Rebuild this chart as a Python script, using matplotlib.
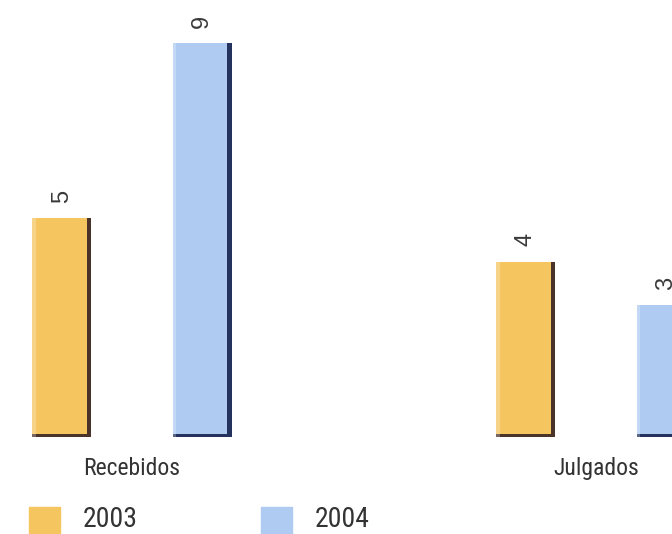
import numpy as np
import matplotlib.pyplot as plt
from matplotlib.patches import Rectangle

# data
categories = ['Recebidos', 'Julgados']
years = ['2003', '2004']
values_2003 = [5, 4]
values_2004 = [9, 3]

face_colors = ['#f5c55f', '#afcbf1']
edge_colors = ['#4a3328', '#24335e']

plt.rcParams['font.family'] = ['Roboto Condensed', 'Liberation Sans Narrow', 'DejaVu Sans']

fig = plt.figure(figsize=(6.72, 5.34), dpi=100)
ax = fig.add_axes([0, 0, 1, 1])
ax.set_xlim(-0.2845, 1.1638)
ax.set_ylim(-2.227, 9.98)
ax.axis('off')

x = np.arange(len(categories))
offset = 0.151
width = 0.127
edge_w = 0.009   # dark right edge
base_h = 0.07    # dark bottom strip

for i, vals in enumerate([values_2003, values_2004]):
    pos = x + (-offset if i == 0 else offset)
    ax.bar(pos, vals, width=width, color=face_colors[i], zorder=2)
    # bevel: dark right side and bottom
    ax.bar(pos + width / 2 - edge_w / 2, vals, width=edge_w, color=edge_colors[i], zorder=3)
    ax.bar(pos, base_h, width=width, color=edge_colors[i], zorder=3)
    # light left highlight
    ax.bar(pos - width / 2 + 0.004, vals, width=0.008, color='white', alpha=0.25, zorder=3)
    for p, v in zip(pos, vals):
        ax.annotate(str(v), (p, v), xytext=(0, 11), textcoords='offset points',
                    rotation=90, ha='center', va='bottom', fontsize=17,
                    family=['Liberation Sans', 'DejaVu Sans'], color='#3a3a3a')

for xi, cat in zip(x, categories):
    ax.text(xi, -0.72, cat, ha='center', va='center', fontsize=17,
            fontstretch='condensed', color='#333333')

# legend
for i, yr in enumerate(years):
    lx = 0.043 + i * 0.345
    ax.add_patch(Rectangle((lx, 0.0), 0.046, 0.05, transform=ax.transAxes,
                           color=face_colors[i], clip_on=False))
    ax.text(lx + 0.08, 0.002, yr, transform=ax.transAxes, ha='left', va='bottom',
            fontsize=20, fontstretch='condensed', color='#333333')

fig.savefig('out.png', dpi=100)
